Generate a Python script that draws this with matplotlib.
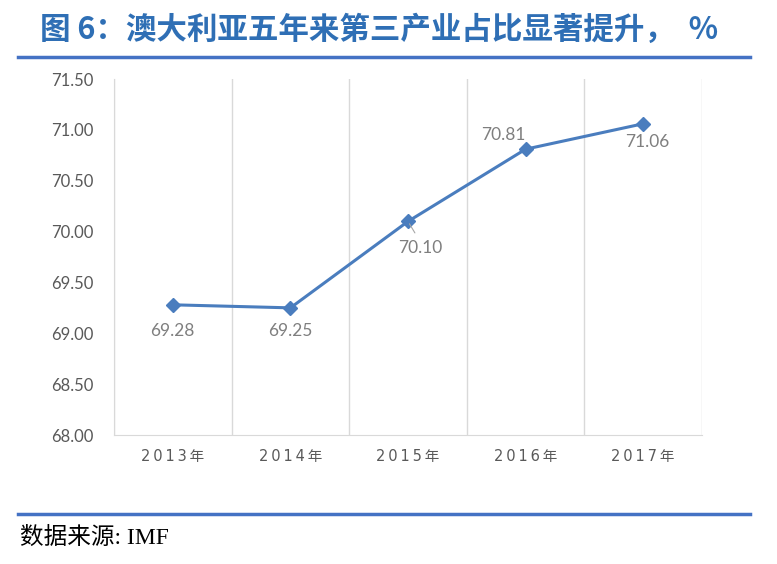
import matplotlib.pyplot as plt
from matplotlib.lines import Line2D

years = ["2013年", "2014年", "2015年", "2016年", "2017年"]
share = [69.28, 69.25, 70.10, 70.81, 71.06]
# label offsets in points (dx, dy)
label_offsets = [(0, -19), (0, -17), (9, -19), (-16, 10), (3, -13)]

line_color = "#4A7DBE"
title_color = "#2F6FB5"
rule_color = "#4472C4"

fig = plt.figure(figsize=(7.77, 5.64), dpi=100)
ax = fig.add_axes([114 / 777, 1 - 435 / 564, 588 / 777, 356 / 564])

x = list(range(len(years)))
ax.plot(x, share, color=line_color, lw=2.2, marker="D", ms=7, zorder=3)

for i, (v, off) in enumerate(zip(share, label_offsets)):
    ax.annotate(f"{v:.2f}", (i, v), xytext=off, textcoords="offset points",
                ha="center", va="center", fontsize=12.5, color="#7F7F7F",
                family="Lato")
# small leader line for 2015 label
ax.annotate("", (2, share[2]), xytext=(6, -10), textcoords="offset points",
            arrowprops=dict(arrowstyle="-", color="#A6A6A6", lw=0.8))

ax.set_xlim(-0.5, len(years) - 0.5)
ax.set_ylim(68.0, 71.5)
ax.set_yticks([68.0 + 0.5 * k for k in range(8)])
ax.set_yticklabels([f"{68.0 + 0.5 * k:.2f}" for k in range(8)],
                   family="Lato", fontsize=12, color="#595959")
ax.set_xticks(x)
ax.set_xticklabels(["\u2009".join(y) for y in years],
                   family=["DejaVu Sans", "Noto Sans CJK SC"], fontsize=10.5,
                   color="#595959")
ax.tick_params(axis="y", length=0, pad=15)
ax.tick_params(axis="x", length=0, pad=10)

for b in [k - 0.5 for k in range(len(years) + 1)]:
    ax.axvline(b, color="#D9D9D9", lw=1, zorder=1)
for s in ["top", "right"]:
    ax.spines[s].set_visible(False)
ax.spines["left"].set_color("#D9D9D9")
ax.spines["bottom"].set_color("#D9D9D9")

fig.text(40 / 777, 1 - 30 / 564, "图 6：澳大利亚五年来第三产业占比显著提升，  %",
         family=["Noto Sans CJK SC", "DejaVu Sans"], fontweight="bold",
         fontsize=22, color=title_color, ha="left", va="center")
fig.add_artist(Line2D([18 / 777, 750 / 777], [1 - 57 / 564] * 2,
                      color=rule_color, lw=2.5))
fig.add_artist(Line2D([18 / 777, 750 / 777], [1 - 514 / 564] * 2,
                      color=rule_color, lw=2.5))
fig.text(20 / 777, 1 - 538 / 564, "数据来源: IMF",
         family=["Liberation Serif", "Noto Sans CJK SC"], fontsize=17,
         color="black", ha="left", va="center")

fig.savefig("out.png", dpi=100)
